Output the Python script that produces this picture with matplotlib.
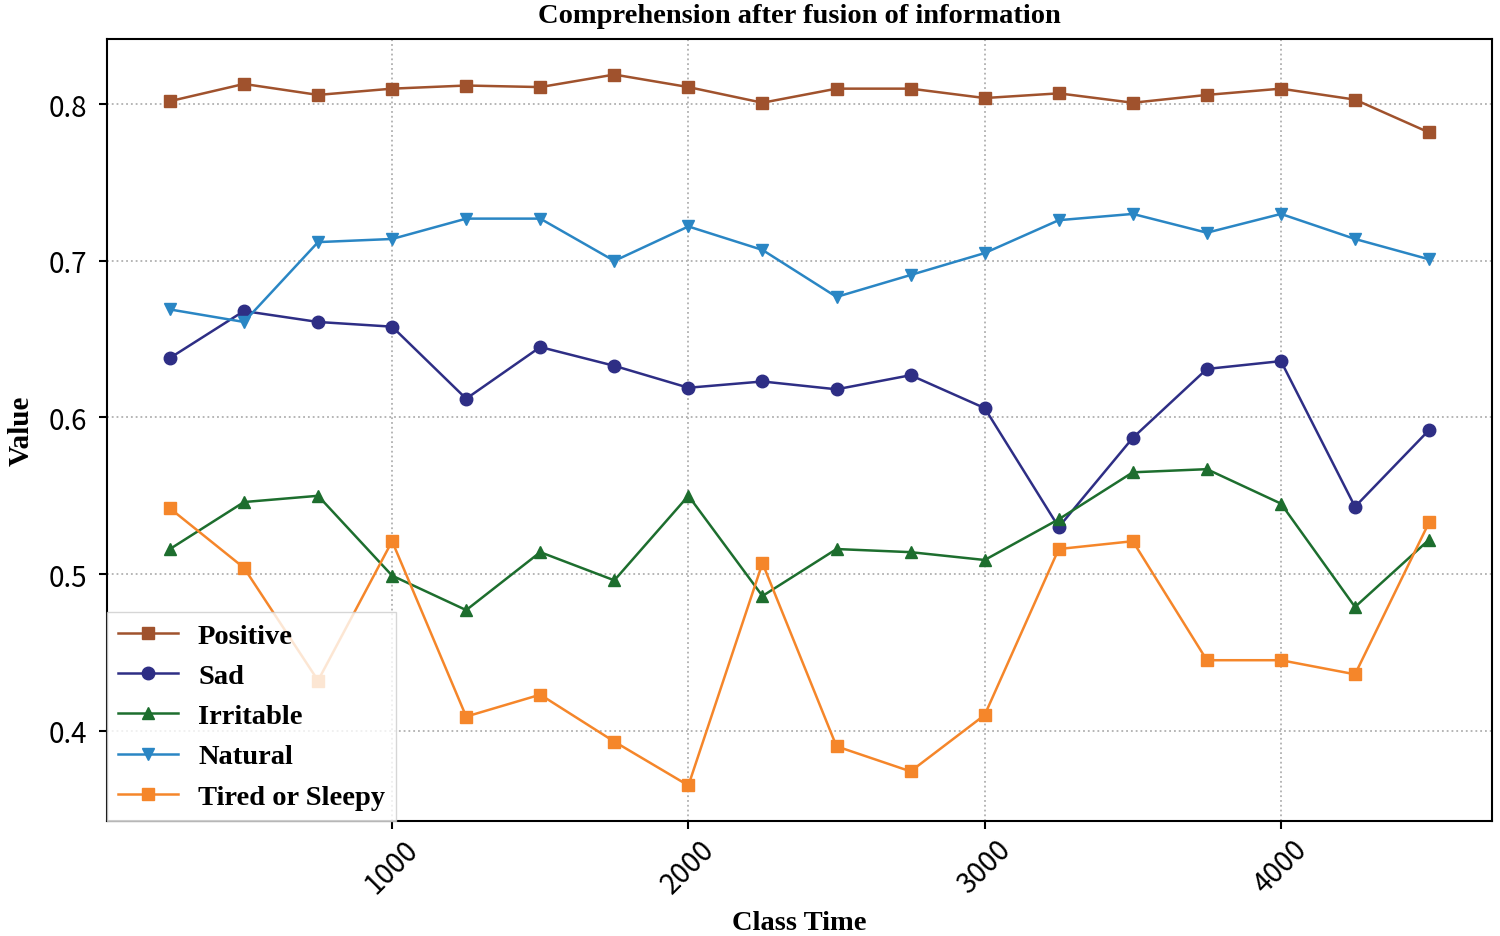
import matplotlib
matplotlib.use("Agg")
import matplotlib.pyplot as plt

class_time = [250, 500, 750, 1000, 1250, 1500, 1750, 2000, 2250, 2500,
              2750, 3000, 3250, 3500, 3750, 4000, 4250, 4500]
positive = [0.802, 0.813, 0.806, 0.810, 0.812, 0.811, 0.819, 0.811, 0.801,
            0.810, 0.810, 0.804, 0.807, 0.801, 0.806, 0.810, 0.803, 0.782]
sad = [0.638, 0.668, 0.661, 0.658, 0.612, 0.645, 0.633, 0.619, 0.623,
       0.618, 0.627, 0.606, 0.530, 0.587, 0.631, 0.636, 0.543, 0.592]
irritable = [0.516, 0.546, 0.550, 0.499, 0.477, 0.514, 0.496, 0.550, 0.486,
             0.516, 0.514, 0.509, 0.535, 0.565, 0.567, 0.545, 0.479, 0.522]
natural = [0.669, 0.661, 0.712, 0.714, 0.727, 0.727, 0.700, 0.722, 0.707,
           0.677, 0.691, 0.705, 0.726, 0.730, 0.718, 0.730, 0.714, 0.701]
tired = [0.542, 0.504, 0.432, 0.521, 0.409, 0.423, 0.393, 0.365, 0.507,
         0.390, 0.374, 0.410, 0.516, 0.521, 0.445, 0.445, 0.436, 0.533]

series = [
    ("Positive", positive, "#a0522d", "s"),
    ("Sad", sad, "#2e2e85", "o"),
    ("Irritable", irritable, "#1d6e2e", "^"),
    ("Natural", natural, "#2a86c4", "v"),
    ("Tired or Sleepy", tired, "#f5862a", "s"),
]

serif = ["Liberation Serif", "DejaVu Serif"]
tickfont = ["Noto Sans CJK SC", "DejaVu Sans"]

fig = plt.figure(figsize=(15, 9.37), dpi=100)
ax = fig.add_axes([0.0713, 0.1227, 0.9234, 0.8346])

for name, vals, color, marker in series:
    ax.plot(class_time, vals, color=color, marker=marker, markersize=9,
            linewidth=1.8, label=name)

ax.grid(True, linestyle=":", color="#b0b0b0", linewidth=1.3)
ax.set_xticks([1000, 2000, 3000, 4000])
for lbl in ax.get_xticklabels():
    lbl.set_rotation(45)
ax.tick_params(axis="both", labelsize=20, length=6, width=1.5)
ax.tick_params(axis="y", pad=8)
for lbl in ax.get_xticklabels() + ax.get_yticklabels():
    lbl.set_family(tickfont)
for sp in ax.spines.values():
    sp.set_linewidth(1.5)

ax.set_title("Comprehension after fusion of information", fontsize=20.5,
             fontweight="bold", family=serif, pad=12)
ax.set_xlabel("Class Time", fontsize=20.5, fontweight="bold", family=serif, labelpad=8)
ax.set_ylabel("Value", fontsize=21, fontweight="bold", family=serif, labelpad=10)

leg = ax.legend(loc="lower left", prop={"family": serif, "weight": "bold", "size": 20.5},
                borderaxespad=0, handlelength=2.1, handletextpad=0.7,
                framealpha=0.8, fancybox=False)

fig.savefig("out.png", dpi=100)
